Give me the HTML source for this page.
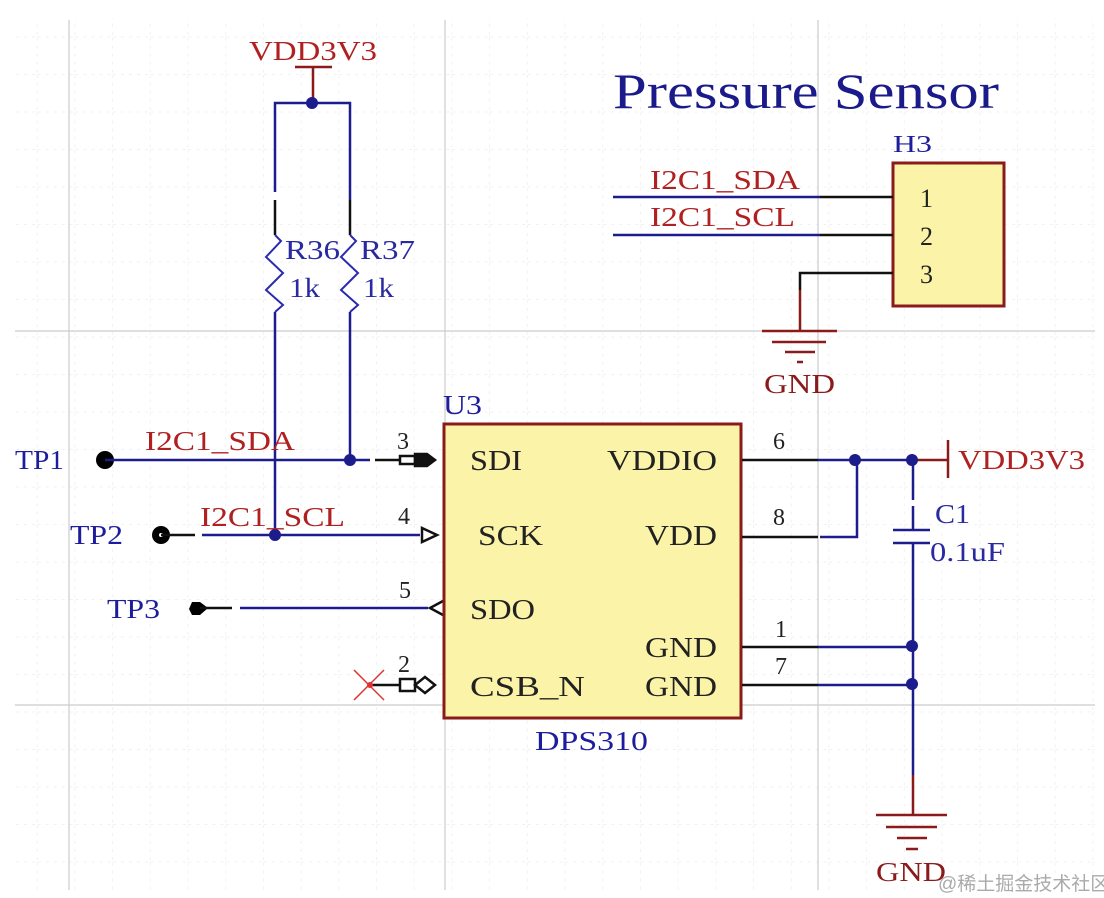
<!DOCTYPE html>
<html><head><meta charset="utf-8"><style>
html,body{margin:0;padding:0;background:#fff}
svg{display:block}
text{font-family:"Liberation Serif",serif}
</style></head><body>
<svg width="1104" height="898" viewBox="0 0 1104 898" xmlns="http://www.w3.org/2000/svg">
<defs>
<pattern id="g" x="0" y="0" width="37.7" height="37.5" patternUnits="userSpaceOnUse">
<path d="M37.2 0V37.5M0 37H37.7" stroke="#f1f1f1" stroke-width="1" stroke-dasharray="3 5" fill="none"/>
</pattern>
</defs>
<rect x="15" y="18" width="1080" height="872" fill="url(#g)"/>
<g stroke="#cccccc" stroke-width="1.2">
<line x1="69" y1="20" x2="69" y2="890"/><line x1="445" y1="20" x2="445" y2="890"/><line x1="818" y1="20" x2="818" y2="890"/>
<line x1="15" y1="331" x2="1095" y2="331"/><line x1="15" y1="705" x2="1095" y2="705"/>
</g>
<text x="613" y="108" font-size="50" fill="#1a1a8a" textLength="386" lengthAdjust="spacingAndGlyphs">Pressure Sensor</text>
<text x="249" y="60" font-size="27" fill="#b02020" textLength="128" lengthAdjust="spacingAndGlyphs">VDD3V3</text>
<g stroke="#8b1a1a" stroke-width="2.5"><line x1="295" y1="67" x2="332" y2="67"/><line x1="313" y1="67" x2="313" y2="103"/></g>
<g fill="none" stroke-width="2.5">
<path d="M275 192V103H350V200" stroke="#1c1c8c"/>
<line x1="275" y1="200" x2="275" y2="235" stroke="#111"/>
<line x1="350" y1="200" x2="350" y2="235" stroke="#111"/>
<path d="M275 235L281 241L266 257L283 273L266 290L283 305L275 312" stroke="#2a2ab0" stroke-width="2"/>
<path d="M350 235L356 241L341 257L358 273L341 290L358 305L350 312" stroke="#2a2ab0" stroke-width="2"/>
<line x1="275" y1="312" x2="275" y2="535" stroke="#1c1c8c"/>
<line x1="350" y1="312" x2="350" y2="460" stroke="#1c1c8c"/>
</g>
<circle cx="312" cy="103" r="6" fill="#1c1c8c"/>
<g font-size="27" fill="#2a2aa0" lengthAdjust="spacingAndGlyphs">
<text x="285" y="259" textLength="55" lengthAdjust="spacingAndGlyphs">R36</text>
<text x="360" y="259" textLength="55" lengthAdjust="spacingAndGlyphs">R37</text>
<text x="289" y="297" textLength="31" lengthAdjust="spacingAndGlyphs">1k</text>
<text x="363" y="297" textLength="31" lengthAdjust="spacingAndGlyphs">1k</text>
</g>
<g font-size="27" fill="#1c1c9c">
<text x="15" y="469" textLength="49" lengthAdjust="spacingAndGlyphs">TP1</text>
<text x="70" y="544" textLength="53" lengthAdjust="spacingAndGlyphs">TP2</text>
<text x="107" y="618" textLength="53" lengthAdjust="spacingAndGlyphs">TP3</text>
</g>
<circle cx="105" cy="460" r="9" fill="#000"/>
<circle cx="161" cy="535" r="9" fill="#000"/><circle cx="161" cy="535" r="2" fill="#fff"/>
<path d="M192 602h8l8 6l-8 7h-8l-3-6z" fill="#000"/>
<g stroke-width="2.5">
<line x1="105" y1="460" x2="370" y2="460" stroke="#1c1c8c"/>
<line x1="375" y1="460" x2="405" y2="460" stroke="#111"/>
<line x1="161" y1="535" x2="195" y2="535" stroke="#111"/>
<line x1="202" y1="535" x2="420" y2="535" stroke="#1c1c8c"/>
<line x1="200" y1="608" x2="232" y2="608" stroke="#111"/>
<line x1="240" y1="608" x2="428" y2="608" stroke="#1c1c8c"/>
<line x1="370" y1="685" x2="400" y2="685" stroke="#111"/>
</g>
<circle cx="350" cy="460" r="6" fill="#1c1c8c"/>
<circle cx="275" cy="535" r="6" fill="#1c1c8c"/>
<text x="145" y="450" font-size="27" fill="#b02020" textLength="150" lengthAdjust="spacingAndGlyphs">I2C1_SDA</text>
<text x="200" y="526" font-size="27" fill="#b02020" textLength="145" lengthAdjust="spacingAndGlyphs">I2C1_SCL</text>
<g stroke="#111" stroke-width="2.5" fill="#fff">
<path d="M400 456h15v8h-15z"/><path d="M415 454l12 0l8 6l-8 6l-12 0z" fill="#111"/>
<path d="M422 528l15 7l-15 7z"/><path d="M443 528l12 7l-12 7"/>
<path d="M443 601l-13 7l13 7"/>
<path d="M400 679h15v12h-15z"/><path d="M415 685l10-8l10 8l-10 8z"/>
</g>
<text x="397" y="449" font-size="24" fill="#222">3</text>
<text x="398" y="524" font-size="24" fill="#222">4</text>
<text x="399" y="598" font-size="24" fill="#222">5</text>
<text x="398" y="672" font-size="24" fill="#222">2</text>
<g stroke="#e03030" stroke-width="1.5"><line x1="354" y1="670" x2="384" y2="700"/><line x1="384" y1="670" x2="354" y2="700"/></g>
<circle cx="370" cy="685" r="3" fill="#e03030"/>
<rect x="444" y="424" width="297" height="294" fill="#fbf4a8" stroke="#8b1a1a" stroke-width="3"/>
<g font-size="28" fill="#222">
<text x="470" y="470" textLength="52" lengthAdjust="spacingAndGlyphs">SDI</text>
<text x="478" y="545" textLength="65" lengthAdjust="spacingAndGlyphs">SCK</text>
<text x="470" y="619" textLength="65" lengthAdjust="spacingAndGlyphs">SDO</text>
<text x="470" y="696" textLength="115" lengthAdjust="spacingAndGlyphs">CSB_N</text>
<text x="607" y="470" textLength="110" lengthAdjust="spacingAndGlyphs">VDDIO</text>
<text x="645" y="545" textLength="72" lengthAdjust="spacingAndGlyphs">VDD</text>
<text x="645" y="657" textLength="72" lengthAdjust="spacingAndGlyphs">GND</text>
<text x="645" y="696" textLength="72" lengthAdjust="spacingAndGlyphs">GND</text>
</g>
<text x="443" y="414" font-size="27" fill="#1c1c9c" textLength="39" lengthAdjust="spacingAndGlyphs">U3</text>
<text x="535" y="750" font-size="27" fill="#1c1c9c" textLength="113" lengthAdjust="spacingAndGlyphs">DPS310</text>
<g stroke-width="2.5" fill="none">
<line x1="742" y1="460" x2="818" y2="460" stroke="#111"/>
<line x1="818" y1="460" x2="913" y2="460" stroke="#1c1c8c"/>
<line x1="913" y1="460" x2="948" y2="460" stroke="#8b1a1a"/>
<line x1="948" y1="440" x2="948" y2="478" stroke="#8b1a1a"/>
<line x1="742" y1="537" x2="818" y2="537" stroke="#111"/>
<path d="M820 537H857V460" stroke="#1c1c8c"/>
<line x1="742" y1="647" x2="818" y2="647" stroke="#111"/>
<line x1="818" y1="647" x2="913" y2="647" stroke="#1c1c8c"/>
<line x1="742" y1="685" x2="818" y2="685" stroke="#111"/>
<line x1="818" y1="685" x2="913" y2="685" stroke="#1c1c8c"/>
<line x1="913" y1="460" x2="913" y2="500" stroke="#1c1c8c"/>
<line x1="913" y1="506" x2="913" y2="530" stroke="#1c1c8c"/>
<line x1="893" y1="530" x2="930" y2="530" stroke="#1c1c8c"/>
<line x1="893" y1="543" x2="930" y2="543" stroke="#1c1c8c"/>
<line x1="913" y1="543" x2="913" y2="775" stroke="#1c1c8c"/>
<line x1="913" y1="775" x2="913" y2="815" stroke="#8b1a1a"/>
<line x1="876" y1="815" x2="947" y2="815" stroke="#8b1a1a"/>
<line x1="886" y1="827" x2="937" y2="827" stroke="#8b1a1a"/>
<line x1="897" y1="838" x2="927" y2="838" stroke="#8b1a1a"/>
<line x1="906" y1="849" x2="918" y2="849" stroke="#8b1a1a"/>
</g>
<circle cx="855" cy="460" r="6" fill="#1c1c8c"/>
<circle cx="912" cy="460" r="6" fill="#1c1c8c"/>
<circle cx="912" cy="646" r="6" fill="#1c1c8c"/>
<circle cx="912" cy="684" r="6" fill="#1c1c8c"/>
<g font-size="24" fill="#222">
<text x="773" y="449">6</text><text x="773" y="525">8</text>
<text x="775" y="637">1</text><text x="775" y="674">7</text>
</g>
<text x="958" y="469" font-size="27" fill="#b02020" textLength="127" lengthAdjust="spacingAndGlyphs">VDD3V3</text>
<text x="935" y="523" font-size="27" fill="#2a2aa0" textLength="35" lengthAdjust="spacingAndGlyphs">C1</text>
<text x="930" y="561" font-size="27" fill="#2a2aa0" textLength="75" lengthAdjust="spacingAndGlyphs">0.1uF</text>
<text x="876" y="881" font-size="27" fill="#8b1a1a" textLength="70" lengthAdjust="spacingAndGlyphs">GND</text>
<text x="893" y="152" font-size="24" fill="#1c1c9c" textLength="39" lengthAdjust="spacingAndGlyphs">H3</text>
<rect x="893" y="163" width="111" height="143" fill="#fbf4a8" stroke="#8b1a1a" stroke-width="3"/>
<g font-size="26" fill="#222"><text x="920" y="207">1</text><text x="920" y="245">2</text><text x="920" y="283">3</text></g>
<g stroke-width="2.5" fill="none">
<line x1="613" y1="197" x2="820" y2="197" stroke="#1c1c8c"/>
<line x1="820" y1="197" x2="893" y2="197" stroke="#111"/>
<line x1="613" y1="235" x2="820" y2="235" stroke="#1c1c8c"/>
<line x1="820" y1="235" x2="893" y2="235" stroke="#111"/>
<path d="M893 273H800V290" stroke="#111"/>
<line x1="800" y1="290" x2="800" y2="330" stroke="#8b1a1a"/>
<line x1="762" y1="331" x2="837" y2="331" stroke="#8b1a1a"/>
<line x1="772" y1="342" x2="826" y2="342" stroke="#8b1a1a"/>
<line x1="785" y1="352" x2="815" y2="352" stroke="#8b1a1a"/>
<line x1="797" y1="362" x2="803" y2="362" stroke="#8b1a1a"/>
</g>
<text x="650" y="189" font-size="27" fill="#b02020" textLength="150" lengthAdjust="spacingAndGlyphs">I2C1_SDA</text>
<text x="650" y="226" font-size="27" fill="#b02020" textLength="145" lengthAdjust="spacingAndGlyphs">I2C1_SCL</text>
<text x="764" y="393" font-size="27" fill="#8b1a1a" textLength="71" lengthAdjust="spacingAndGlyphs">GND</text>
<text x="938" y="890" font-size="19" fill="#aaa" style="font-family:'Liberation Sans','Noto Sans CJK SC',sans-serif">@稀土掘金技术社区</text>
</svg>
</body></html>
